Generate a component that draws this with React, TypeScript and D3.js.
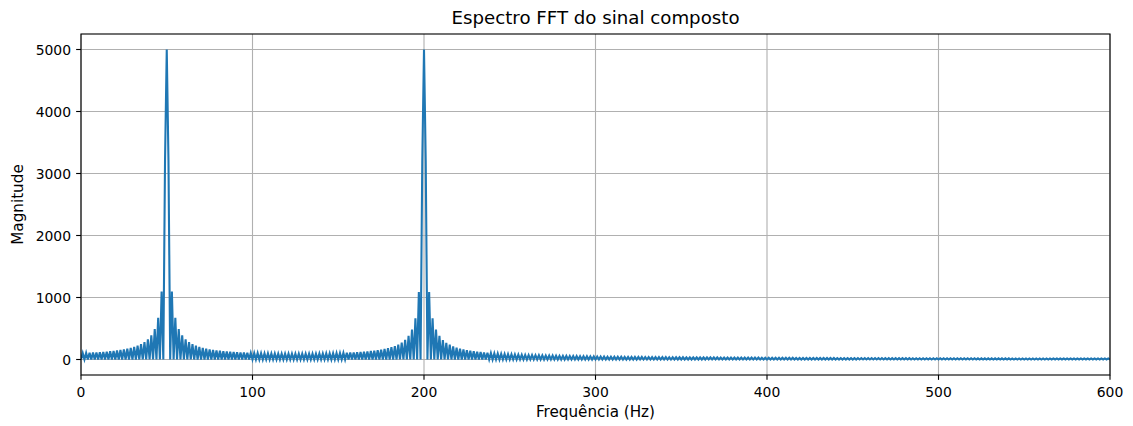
import React from "react";
import * as d3 from "d3";

// magnitudes read at the odd bins 1, 3, 5 ... 599 Hz (even bins sit at ~0)
const oddBinMagnitude = [
  104, 107, 109, 112, 115, 118, 123, 127, 133, 138, 146, 153, 163, 174, 186, 202, 222, 247, 279, 324, 388, 489, 671, 1096, 3217,
  3217, 1096, 672, 490, 388, 324, 280, 248, 223, 204, 187, 174, 164, 155, 147, 140, 135, 130, 124, 120, 117, 114, 111, 109, 106,
  105, 103, 101, 99, 98, 97, 96, 95, 95, 94, 94, 93, 93, 93, 93, 93, 94, 94, 95, 96, 97, 98, 99, 101, 103,
  103, 106, 108, 111, 114, 117, 121, 126, 131, 136, 143, 151, 160, 170, 183, 198, 217, 242, 274, 318, 382, 483, 665, 1089, 3210,
  3210, 1088, 663, 481, 380, 315, 270, 238, 212, 192, 176, 163, 152, 142, 134, 126, 120, 114, 109, 103, 99, 96, 92, 89, 86,
  83, 81, 78, 76, 74, 72, 70, 69, 67, 66, 64, 63, 62, 60, 59, 58, 57, 56, 55, 54, 53, 52, 52, 51, 50,
  48, 47, 47, 46, 45, 45, 44, 44, 43, 43, 42, 42, 41, 41, 40, 40, 39, 39, 38, 38, 38, 37, 37, 36, 36,
  36, 35, 35, 35, 34, 34, 34, 33, 33, 33, 33, 32, 32, 32, 31, 31, 31, 31, 30, 30, 30, 30, 30, 29, 29,
  28, 28, 28, 27, 27, 27, 27, 27, 26, 26, 26, 26, 26, 26, 25, 25, 25, 25, 25, 25, 24, 24, 24, 24, 24,
  24, 24, 23, 23, 23, 23, 23, 23, 23, 22, 22, 22, 22, 22, 22, 22, 22, 21, 21, 21, 21, 21, 21, 21, 21,
  21, 21, 20, 20, 20, 20, 20, 20, 20, 20, 20, 19, 19, 19, 19, 19, 19, 19, 19, 19, 19, 18, 18, 18, 18,
  18, 18, 18, 18, 18, 18, 18, 18, 17, 17, 17, 17, 17, 17, 17, 17, 17, 17, 17, 17, 17, 17, 17, 17, 17,
];
const peakFreqs = [50, 200];
const peakMagnitude = [5000, 5000];
const maxFreq = 600;

const xTicks = [0, 100, 200, 300, 400, 500, 600];
const yTicks = [0, 1000, 2000, 3000, 4000, 5000];

const W = 1133;
const H = 426;
const left = 81, right = 1110, top = 34, bottom = 375;
const font = "'DejaVu Sans', sans-serif";
const pt = 100 / 72; // matplotlib points -> px at dpi 100

function spectrum(): [number, number][] {
  const pts: [number, number][] = [];
  for (let f = 0; f <= maxFreq; f++) {
    let m = 0;
    if (f % 2 === 1) m = oddBinMagnitude[(f - 1) / 2];
    else {
      const i = peakFreqs.indexOf(f);
      if (i >= 0) m = peakMagnitude[i];
    }
    pts.push([f, m]);
  }
  return pts;
}

export default function App() {
  const x = d3.scaleLinear().domain([0, 600]).range([left, right]);
  const y = d3.scaleLinear().domain([-250, 5250]).range([bottom, top]);
  const line = d3.line<[number, number]>()
    .x(d => x(d[0]))
    .y(d => y(d[1]));
  const path = line(spectrum()) || "";
  const tick = 3.5 * pt;

  return (
    <svg width={W} height={H} style={{ position: "absolute", left: 0, top: 0, background: "#fff" }}
      fontFamily={font}>
      <defs>
        <clipPath id="plot-area">
          <rect x={left} y={top} width={right - left} height={bottom - top} />
        </clipPath>
      </defs>
      {/* grid */}
      <g stroke="#b0b0b0" strokeWidth={0.8 * pt}>
        {xTicks.map(t => (
          <line key={"gx" + t} x1={x(t)} x2={x(t)} y1={top} y2={bottom} />
        ))}
        {yTicks.map(t => (
          <line key={"gy" + t} x1={left} x2={right} y1={y(t)} y2={y(t)} />
        ))}
      </g>
      <path d={path} fill="none" stroke="#1f77b4" strokeWidth={1.5 * pt} clipPath="url(#plot-area)" />
      {/* spines */}
      <rect x={left} y={top} width={right - left} height={bottom - top} fill="none" stroke="#000" strokeWidth={0.8 * pt} />
      <g fontSize={13.9} fill="#000">
        {xTicks.map(t => (
          <g key={"xt" + t}>
            <line x1={x(t)} x2={x(t)} y1={bottom} y2={bottom + tick} stroke="#000" strokeWidth={0.8 * pt} />
            <text x={x(t)} y={397} textAnchor="middle">{t}</text>
          </g>
        ))}
        {yTicks.map(t => (
          <g key={"yt" + t}>
            <line x1={left - tick} x2={left} y1={y(t)} y2={y(t)} stroke="#000" strokeWidth={0.8 * pt} />
            <text x={71} y={y(t) + 5} textAnchor="end">{t}</text>
          </g>
        ))}
      </g>
      <g fontSize={15.2} fill="#000">
        <text x={(left + right) / 2} y={417} textAnchor="middle">Frequência (Hz)</text>
        <text transform={`translate(23,${(top + bottom) / 2}) rotate(-90)`} textAnchor="middle">Magnitude</text>
      </g>
      <text x={(left + right) / 2} y={24} textAnchor="middle" fontSize={18.2} fill="#000">
        Espectro FFT do sinal composto
      </text>
    </svg>
  );
}
